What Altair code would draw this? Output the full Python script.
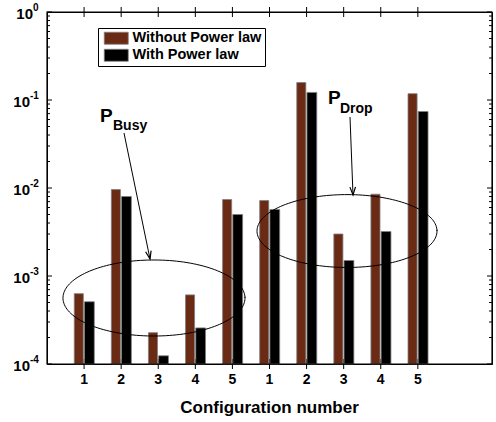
import altair as alt
import pandas as pd

# ---------------- data ----------------
positions = [1, 2, 3, 4, 5, 6, 7, 8, 9, 10]
config_labels = ["1", "2", "3", "4", "5", "1", "2", "3", "4", "5"]
series_names = ["Without Power law", "With Power law"]
without_power_law = [6.3e-4, 9.6e-3, 2.27e-4, 6.1e-4, 7.4e-3, 7.2e-3, 0.158, 3.0e-3, 8.5e-3, 0.118]
with_power_law = [5.1e-4, 8.0e-3, 1.24e-4, 2.57e-4, 5.0e-3, 5.7e-3, 0.122, 1.5e-3, 3.2e-3, 0.074]
series_colors = ["#6B2A14", "#000000"]

y_major = [1e-4, 1e-3, 1e-2, 1e-1, 1.0]
y_label_base = ["10", "10", "10", "10", "10"]
y_label_exp = ["-4", "-3", "-2", "-1", "0"]
y_minor = [m * 10.0 ** e for e in range(-4, 0) for m in range(2, 10)]
x_title = "Configuration number"
x_domain = [0, 12]
y_domain = [1e-4, 1.0]

# annotation ellipses (centre / radius in x units and in log10 decades)
ellipse_cx = [2.885, 8.09]
ellipse_rx = [2.454, 2.427]
ellipse_cy_log = [-3.25, -2.489]
ellipse_ry_log = [0.432, 0.414]

# annotation labels
ann_main = ["P", "P"]
ann_main_x = [1.43, 7.58]
ann_main_y = [0.0562, 0.0901]
ann_sub = ["Busy", "Drop"]
ann_sub_x = [1.78, 7.90]
ann_sub_y = [0.0456, 0.0711]

# annotation arrows
arrow_x0 = [2.076, 8.171]
arrow_y0 = [0.0422, 0.0641]
arrow_x1 = [2.778, 8.252]
arrow_y1 = [1.56e-3, 8.32e-3]
arrow_angle = [348, 358]

W, H = 445, 352
FONT = "Liberation Sans"

# ---------------- tables ----------------
bars = pd.DataFrame({
    "pos": positions * 2,
    "series": [series_names[0]] * len(positions) + [series_names[1]] * len(positions),
    "value": without_power_law + with_power_law,
})
bars["order"] = [0] * len(positions) + [1] * len(positions)

xscale = alt.Scale(domain=x_domain, nice=False, zero=False)
yscale = alt.Scale(type="log", domain=y_domain, nice=False)

bar_layer = alt.Chart(bars).transform_calculate(
    x0="datum.order == 0 ? datum.pos - 0.265 : datum.pos + 0.01",
    x1="datum.order == 0 ? datum.pos - 0.02 : datum.pos + 0.275",
    base="0.0001",
).mark_bar(stroke="#808080", strokeWidth=0.8).encode(
    x=alt.X("x0:Q", scale=xscale, axis=None),
    x2="x1:Q",
    y=alt.Y("value:Q", scale=yscale, axis=None),
    y2="base:Q",
    color=alt.Color("series:N",
                    scale=alt.Scale(domain=series_names, range=series_colors),
                    legend=alt.Legend(title=None, orient="none", legendX=51, legendY=16,
                                      fillColor="white", strokeColor="black", padding=3,
                                      symbolType="M-2,-1H2V1H-2Z", symbolSize=144,
                                      symbolOffset=8, symbolStrokeColor="#808080",
                                      symbolStrokeWidth=0.8, labelOffset=9,
                                      rowPadding=1, labelFont=FONT, labelFontSize=14.5,
                                      labelFontWeight="bold", labelColor="black")),
)

# tick marks (inward, on all four sides)
ymaj = pd.DataFrame({"v": y_major, "base": y_label_base, "exp": y_label_exp})
ymin = pd.DataFrame({"v": y_minor})
xt = pd.DataFrame({"p": positions, "lab": config_labels})


def yticks(df, length):
    left = alt.Chart(df).mark_rule(color="black", strokeWidth=1).encode(
        y=alt.Y("v:Q", scale=yscale, axis=None), x=alt.value(0), x2=alt.value(length))
    right = alt.Chart(df).mark_rule(color="black", strokeWidth=1).encode(
        y=alt.Y("v:Q", scale=yscale, axis=None), x=alt.value(W - length), x2=alt.value(W))
    return [left, right]


top_ticks = alt.Chart(xt).mark_tick(color="black", thickness=1, size=10, opacity=1).encode(
    x=alt.X("p:Q", scale=xscale, axis=None), y=alt.value(0))
bottom_ticks = alt.Chart(xt).mark_tick(color="black", thickness=1, size=10, opacity=1).encode(
    x=alt.X("p:Q", scale=xscale, axis=None), y=alt.value(H))

# frame: one rectangle spanning both scale domains
frame = alt.Chart(pd.DataFrame({"x0": [x_domain[0]], "x1": [x_domain[1]],
                                "y0": [y_domain[0]], "y1": [y_domain[1]]})).mark_rect(
    fill=None, fillOpacity=0, stroke="black", strokeWidth=1.2).encode(
    x=alt.X("x0:Q", scale=xscale, axis=None), x2="x1:Q",
    y=alt.Y("y0:Q", scale=yscale, axis=None), y2="y1:Q")

# y tick labels: "10" with a raised exponent, right-aligned as a whole
ylab_src = alt.Chart(ymaj).transform_calculate(
    off="length(datum.exp) > 1 ? -17 : -14")
ylab_base = ylab_src.mark_text(
    font=FONT, fontSize=15, fontWeight="bold", align="right", baseline="alphabetic",
    color="black", dy=7).encode(
    y=alt.Y("v:Q", scale=yscale, axis=None), x=alt.X("off:Q", scale=None), text="base:N")
ylab_exp = ylab_src.mark_text(
    font=FONT, fontSize=10, fontWeight="bold", align="left", baseline="alphabetic",
    color="black", dy=-1).encode(
    y=alt.Y("v:Q", scale=yscale, axis=None), x=alt.X("off:Q", scale=None), text="exp:N")

xlab_layer = alt.Chart(xt).mark_text(
    font=FONT, fontSize=14, fontWeight="bold", align="center", baseline="top",
    color="black", dy=9).encode(
    x=alt.X("p:Q", scale=xscale, axis=None), y=alt.value(H), text="lab:N")

# ellipses
ellipse_layers = []
for cx, rx, cy, ry in zip(ellipse_cx, ellipse_rx, ellipse_cy_log, ellipse_ry_log):
    e = alt.Chart(alt.sequence(0, 6.36, 0.04, as_="t")).transform_calculate(
        ex=f"{cx} + {rx} * cos(datum.t)",
        ey=f"pow(10, {cy} + {ry} * sin(datum.t))",
    ).mark_line(color="black", strokeWidth=1).encode(
        x=alt.X("ex:Q", scale=xscale, axis=None),
        y=alt.Y("ey:Q", scale=yscale, axis=None),
        order="t:Q",
    )
    ellipse_layers.append(e)

arrows = pd.DataFrame({"x0": arrow_x0, "y0": arrow_y0, "x1": arrow_x1, "y1": arrow_y1,
                       "ang": arrow_angle})
arrow_lines = alt.Chart(arrows).mark_rule(color="black", strokeWidth=1).encode(
    x=alt.X("x0:Q", scale=xscale, axis=None), x2="x1:Q",
    y=alt.Y("y0:Q", scale=yscale, axis=None), y2="y1:Q")
arrow_heads = alt.Chart(arrows).mark_point(
    shape="M-0.35,-1L0,0L0.35,-1", filled=False, stroke="black", strokeWidth=1.2,
    size=256, opacity=1).encode(
    x=alt.X("x1:Q", scale=xscale, axis=None),
    y=alt.Y("y1:Q", scale=yscale, axis=None),
    angle=alt.Angle("ang:Q", scale=None))

mains = pd.DataFrame({"t": ann_main, "x": ann_main_x, "y": ann_main_y})
subs = pd.DataFrame({"t": ann_sub, "x": ann_sub_x, "y": ann_sub_y})
main_text = alt.Chart(mains).mark_text(
    font=FONT, fontSize=19, fontWeight="bold", align="left", baseline="alphabetic",
    color="black").encode(
    x=alt.X("x:Q", scale=xscale, axis=None), y=alt.Y("y:Q", scale=yscale, axis=None), text="t:N")
sub_text = alt.Chart(subs).mark_text(
    font=FONT, fontSize=14, fontWeight="bold", align="left", baseline="alphabetic",
    color="black").encode(
    x=alt.X("x:Q", scale=xscale, axis=None), y=alt.Y("y:Q", scale=yscale, axis=None), text="t:N")

layers = [bottom_ticks] + yticks(ymaj, 5) + yticks(ymin, 3) + [bar_layer, top_ticks, frame] + \
    ellipse_layers + [arrow_lines, arrow_heads, main_text, sub_text,
                      ylab_base, ylab_exp, xlab_layer]

chart = alt.layer(*layers).properties(
    width=W, height=H,
    autosize=alt.AutoSizeParams(type="none"),
    padding={"left": 47, "top": 12, "right": 4, "bottom": 58},
    background="white",
    title=alt.TitleParams(x_title, orient="bottom", anchor="middle", font=FONT,
                          fontSize=17, fontWeight="bold", color="black", offset=13),
).configure_view(stroke="black", strokeWidth=1)

chart.save("out.html", embed_options={"renderer": "svg", "actions": False})
